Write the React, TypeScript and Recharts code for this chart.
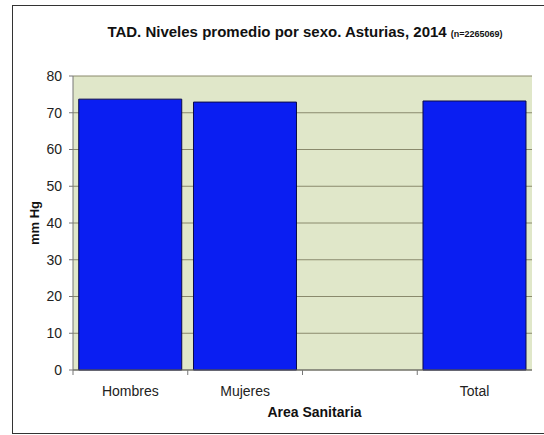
import React from "react";
import { BarChart, Bar, XAxis, YAxis, CartesianGrid } from "recharts";

const categories = ["Hombres", "Mujeres", "", "Total"];
const promedio = [73.7, 72.9, null, 73.2];
const yTicks = [0, 10, 20, 30, 40, 50, 60, 70, 80];

const data = categories.map((name, i) => ({ name, value: promedio[i] }));

const font = "'Liberation Sans Narrow', 'Liberation Sans', Arial, sans-serif";

function CategoryTick(props: any) {
  const { x, y, payload } = props;
  const off = payload.offset || 0;
  return (
    <g>
      <line x1={x - off} x2={x - off} y1={y - 8} y2={y - 3} stroke="#777" />
      <text x={x} y={y + 18} textAnchor="middle" fontSize={14} fill="#222" fontFamily={font}>
        {payload.value}
      </text>
    </g>
  );
}

export default function App() {
  return (
    <div style={{ position: "absolute", left: 0, top: 0, width: 544, height: 435, background: "#fff", fontFamily: font }}>
      <div
        style={{
          position: "absolute",
          left: 12,
          top: 5,
          width: 540,
          height: 427,
          borderLeft: "1px solid #333",
          borderTop: "1px solid #333",
          borderBottom: "1px solid #333",
        }}
      />
      <div
        style={{
          position: "absolute",
          left: 0,
          width: 544,
          top: 23,
          textAlign: "center",
          fontSize: 15,
          fontWeight: "bold",
          color: "#111",
          paddingLeft: 66,
          boxSizing: "border-box",
        }}
      >
        TAD. Niveles promedio por sexo. Asturias, 2014{" "}
        <span style={{ fontSize: 9 }}>(n=2265069)</span>
      </div>
      <BarChart
        width={544}
        height={435}
        data={data}
        margin={{ top: 76, right: 12, bottom: 10, left: 24 }}
        barCategoryGap="5%"
      >
        <CartesianGrid vertical={false} stroke="#8a8a6c" fill="#e0e7c9" />
        <XAxis
          dataKey="name"
          height={55}
          tick={<CategoryTick />}
          tickLine={false}
          axisLine={{ stroke: "#666" }}
          interval={0}
          label={{
            value: "Area Sanitaria",
            position: "insideBottom",
            offset: 8,
            dx: 12,
            fill: "#111",
            fontSize: 14,
            fontWeight: "bold",
            fontFamily: font,
          }}
        />
        <YAxis
          width={49}
          domain={[0, 80]}
          ticks={yTicks}
          interval={0}
          tick={{ fontSize: 14, fill: "#222", fontFamily: font }}
          tickLine={{ stroke: "#777" }}
          tickSize={4}
          tickMargin={7}
          axisLine={{ stroke: "#777" }}
          label={{
            value: "mm Hg",
            angle: -90,
            position: "insideLeft",
            offset: 10,
            style: { textAnchor: "middle" },
            fill: "#111",
            fontSize: 13,
            fontWeight: "bold",
            fontFamily: font,
          }}
        />
        <Bar dataKey="value" fill="#0a1ef2" stroke="#0b0b4a" strokeWidth={1} isAnimationActive={false} />
      </BarChart>
    </div>
  );
}
